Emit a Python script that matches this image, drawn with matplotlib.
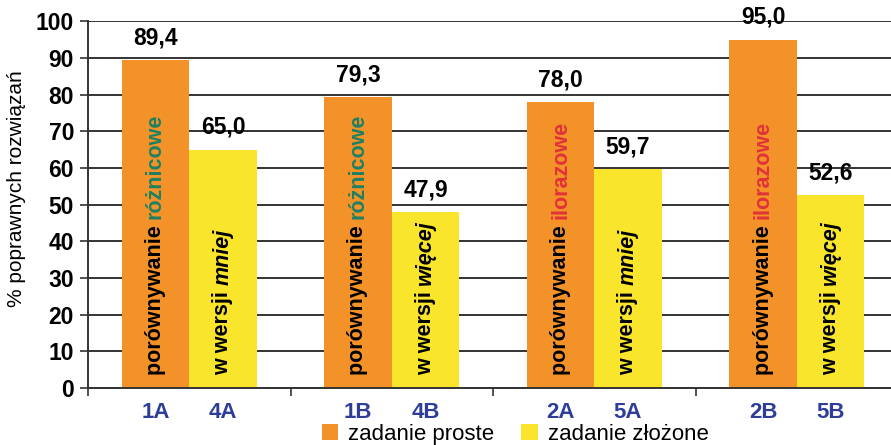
import matplotlib
matplotlib.use("Agg")
import matplotlib.pyplot as plt
from matplotlib.patches import Patch

plt.rcParams['font.family'] = ['Liberation Sans', 'DejaVu Sans']

# Data
groups = ["1", "2", "3", "4"]
simple_labels = ["1A", "1B", "2A", "2B"]
complex_labels = ["4A", "4B", "5A", "5B"]
simple_values = [89.4, 79.3, 78.0, 95.0]
complex_values = [65.0, 47.9, 59.7, 52.6]
kind_words = ["różnicowe", "różnicowe", "ilorazowe", "ilorazowe"]
version_words = ["mniej", "więcej", "mniej", "więcej"]
y_ticks = [0, 10, 20, 30, 40, 50, 60, 70, 80, 90, 100]

ORANGE = "#F39229"
YELLOW = "#F8E52C"
GREEN = "#1E8062"
RED = "#E2323A"
BLUE = "#2E3D98"
GRID = "#333333"

W, H = 891, 445
fig = plt.figure(figsize=(W / 100, H / 100), dpi=100)
ax = fig.add_axes([88 / W, (H - 388) / H, 810 / W, 366.5 / H])

x = list(range(len(groups)))
bw = 1 / 3
xs = [i - bw / 2 for i in x]
xc = [i + bw / 2 for i in x]

ax.bar(xs, simple_values, width=bw, color=ORANGE, zorder=2, linewidth=0)
ax.bar(xc, complex_values, width=bw, color=YELLOW, zorder=2, linewidth=0)

ax.set_xlim(-0.5, len(groups) - 0.5)
ax.set_ylim(0, 100)
ax.set_yticks(y_ticks)
ax.set_yticklabels([str(v) for v in y_ticks], fontsize=16.5, fontweight='bold')
ax.yaxis.grid(True, color=GRID, linewidth=1.4, zorder=0)
ax.set_axisbelow(True)
ax.tick_params(axis='y', length=6, width=1.2, color=GRID, pad=4)

# group separators as x tick marks
ax.set_xticks([i - 0.5 for i in range(len(groups) + 1)])
ax.set_xticklabels([])
ax.tick_params(axis='x', length=6, width=1.2, color=GRID)

for s in ['top', 'right']:
    ax.spines[s].set_visible(False)
for s in ['left', 'bottom']:
    ax.spines[s].set_color(GRID)
    ax.spines[s].set_linewidth(1.4)

# category labels under each bar
for i in x:
    for xp, lab in ((xs[i], simple_labels[i]), (xc[i], complex_labels[i])):
        ax.annotate(lab, xy=(xp, 0), xytext=(0, -10),
                    textcoords='offset points', ha='center', va='top',
                    fontsize=16, fontweight='bold', color=BLUE)

# value labels
for i in x:
    for xp, v in ((xs[i], simple_values[i]), (xc[i], complex_values[i])):
        ax.annotate(f"{v:.1f}".replace('.', ','), xy=(xp, v), xytext=(0, 8),
                    textcoords='offset points', ha='center', va='bottom',
                    fontsize=16.5, fontweight='bold', color='black', zorder=4)

# vertical descriptions inside bars
for i in x:
    kc = GREEN if kind_words[i] == "różnicowe" else RED
    t1 = ax.text(xs[i], 3.6, "porównywanie ", rotation=90, ha='center', va='bottom',
                 fontsize=15.5, fontweight='bold', color='black', zorder=3)
    ax.annotate(kind_words[i], xy=(0.5, 1), xycoords=t1, rotation=90,
                ha='center', va='bottom', fontsize=15.5, fontweight='bold',
                color=kc, zorder=3)
    t2 = ax.text(xc[i], 3.6, "w wersji ", rotation=90, ha='center', va='bottom',
                 fontsize=15.5, fontweight='bold', color='black', zorder=3)
    ax.annotate(version_words[i], xy=(0.5, 1), xycoords=t2, rotation=90,
                ha='center', va='bottom', fontsize=15.5, fontweight='bold',
                style='italic', color='black', zorder=3)

fig.text(17 / W, 1 - 189 / H, "% poprawnych rozwiązań", rotation=90,
         ha='center', va='center', fontsize=15)

handles = [Patch(facecolor=ORANGE, label="zadanie proste"),
           Patch(facecolor=YELLOW, label="zadanie złożone")]
fig.legend(handles=handles, loc='center', bbox_to_anchor=(515 / W, 1 - 434.5 / H),
           ncol=2, frameon=False, fontsize=16, handlelength=0.75, handleheight=0.75,
           handletextpad=0.45, columnspacing=1.2, borderpad=0)

fig.savefig("out.png", dpi=100)
